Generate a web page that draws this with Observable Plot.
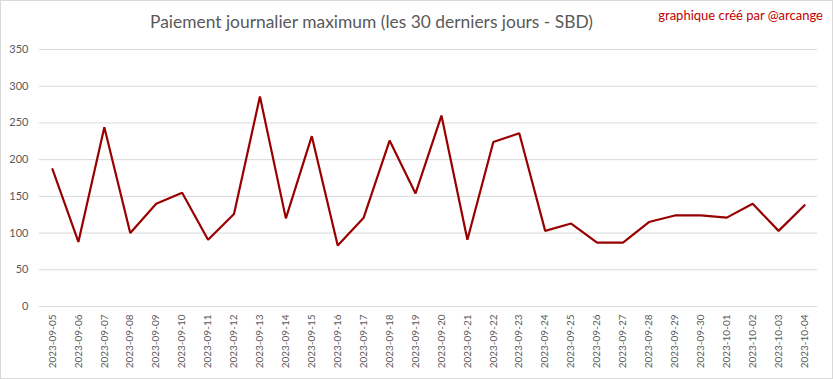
<!DOCTYPE html>
<html>
<head>
<meta charset="utf-8">
<script src="https://cdn.jsdelivr.net/npm/d3@7"></script>
<script src="https://cdn.jsdelivr.net/npm/@observablehq/plot@0.6"></script>
<style>
  html, body { margin: 0; padding: 0; background: #fff; }
  #wrap { position: relative; width: 833px; height: 379px; overflow: hidden; font-family: Lato, "Open Sans", sans-serif; }
  #border { position: absolute; left: 0; top: 0; width: 831px; height: 377px; border: 1px solid #d9d9d9; pointer-events: none; }
  #title { position: absolute; left: 0; top: 11px; width: 743px; text-align: center; font-size: 17.4px; color: #595959; }
  #credit { position: absolute; right: 10px; top: 7px; font-size: 13px; color: #c00000; }
  #chart { position: absolute; left: 0; top: 40px; }
</style>
</head>
<body>
<div id="wrap">
  <div id="title">Paiement journalier maximum (les 30 derniers jours - SBD)</div>
  <div id="credit">graphique créé par @arcange</div>
  <div id="chart"></div>
  <div id="border"></div>
</div>
<script>
const dates = [
  "2023-09-05","2023-09-06","2023-09-07","2023-09-08","2023-09-09","2023-09-10",
  "2023-09-11","2023-09-12","2023-09-13","2023-09-14","2023-09-15","2023-09-16",
  "2023-09-17","2023-09-18","2023-09-19","2023-09-20","2023-09-21","2023-09-22",
  "2023-09-23","2023-09-24","2023-09-25","2023-09-26","2023-09-27","2023-09-28",
  "2023-09-29","2023-09-30","2023-10-01","2023-10-02","2023-10-03","2023-10-04"
];
const values = [
  187, 88, 244, 100, 140, 155,
  91, 126, 286, 120, 232, 83,
  121, 226, 154, 260, 91, 224,
  236, 103, 113, 87, 87, 115,
  124, 124, 121, 140, 103, 138
];
const yTicks = [0, 50, 100, 150, 200, 250, 300, 350];

const data = dates.map((d, i) => ({date: d, value: values[i]}));

const chart = Plot.plot({
  width: 833,
  height: 339,
  marginLeft: 39,
  marginRight: 16,
  marginTop: 9,
  marginBottom: 73,
  style: { fontFamily: "Lato, 'Open Sans', sans-serif", color: "#595959", background: "#fff" },
  x: { type: "point", domain: dates, padding: 0.5, round: false, label: null },
  y: { domain: [0, 350], ticks: yTicks, label: null },
  marks: [
    Plot.ruleY(yTicks, { stroke: "#d9d9d9", strokeWidth: 1 }),
    Plot.axisY({ ticks: yTicks, tickSize: 0, tickPadding: 11, fontSize: 11, label: null }),
    Plot.axisX({ tickSize: 0, tickRotate: -90, tickPadding: 8, fontSize: 10, label: null }),
    Plot.line(data, { x: "date", y: "value", stroke: "#990000", strokeWidth: 2.2, strokeLinejoin: "miter" })
  ]
});
document.getElementById("chart").appendChild(chart);
</script>
</body>
</html>
